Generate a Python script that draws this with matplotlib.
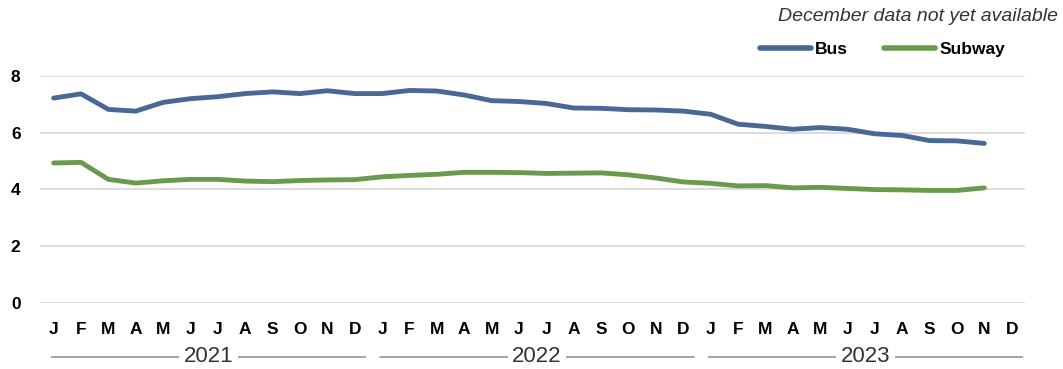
import matplotlib.pyplot as plt
import numpy as np

plt.rcParams['font.family'] = ['Liberation Sans', 'DejaVu Sans']

# monthly values, Jan 2021 .. Nov 2023 (Dec 2023 missing)
months = ["J", "F", "M", "A", "M", "J", "J", "A", "S", "O", "N", "D"] * 3
years = ["2021", "2022", "2023"]

bus = [7.22, 7.37, 6.82, 6.76, 7.07, 7.20, 7.27, 7.38, 7.44, 7.38, 7.48, 7.38,
       7.38, 7.49, 7.47, 7.33, 7.13, 7.10, 7.03, 6.87, 6.86, 6.81, 6.80, 6.76,
       6.65, 6.30, 6.22, 6.12, 6.18, 6.12, 5.96, 5.90, 5.72, 5.71, 5.62]

subway = [4.93, 4.95, 4.35, 4.22, 4.30, 4.35, 4.35, 4.29, 4.27, 4.31, 4.33, 4.34,
          4.44, 4.49, 4.53, 4.60, 4.60, 4.59, 4.56, 4.57, 4.58, 4.51, 4.40, 4.26,
          4.21, 4.12, 4.13, 4.05, 4.07, 4.03, 3.99, 3.98, 3.96, 3.96, 4.05]

bus_color = "#4a6897"
subway_color = "#6a9a4e"

fig = plt.figure(figsize=(10.63, 3.69), dpi=100)
ax = fig.add_axes([0.0376, 0.18, 0.927, 0.614])

x = np.arange(len(bus))
ax.plot(x, bus, color=bus_color, lw=3.5, solid_capstyle="round",
        solid_joinstyle="round", label="Bus", clip_on=False, zorder=3)
ax.plot(x, subway, color=subway_color, lw=3.5, solid_capstyle="round",
        solid_joinstyle="round", label="Subway", clip_on=False, zorder=3)

ax.set_xlim(-0.5, 35.5)
ax.set_ylim(0, 8)
ax.set_yticks([0, 2, 4, 6, 8])
ax.yaxis.grid(True, color="#d9d9d9", lw=1.3)
ax.set_axisbelow(True)
for s in ax.spines.values():
    s.set_visible(False)
ax.tick_params(axis="y", length=0, pad=14, labelsize=12.5)
ax.tick_params(axis="x", length=0, pad=14, labelsize=12.5)
for lab in ax.get_yticklabels():
    lab.set_fontweight("bold")

ax.set_xticks(np.arange(36))
ax.set_xticklabels(months, fontweight="bold")

# year labels sitting on a thin rule below the month letters
year_y = 12  # figure pixels from the bottom
for i, yr in enumerate(years):
    x0 = i * 12 - 0.08
    x1 = i * 12 + 11.4
    mid = (x0 + x1) / 2
    ax.annotate("", xy=(x0, year_y), xytext=(x1, year_y),
                xycoords=("data", "figure pixels"), textcoords=("data", "figure pixels"),
                arrowprops=dict(arrowstyle="-", color="#808080", lw=1.0,
                                shrinkA=0, shrinkB=0))
    ax.annotate(yr, xy=(mid, year_y + 1), xycoords=("data", "figure pixels"),
                ha="center", va="center", fontsize=16, color="#333333",
                bbox=dict(boxstyle="square,pad=0.2", fc="white", ec="none"))

fig.text(0.995, 0.955, "December data not yet available", ha="right", va="center",
         fontsize=14, style="italic", color="#333333")

leg = ax.legend(loc="center right", bbox_to_anchor=(0.96, 0.865),
                bbox_transform=fig.transFigure, ncol=2, frameon=False,
                handlelength=2.9, handletextpad=0.25, columnspacing=2.1,
                prop={"weight": "bold", "size": 12.5})
for h in leg.get_lines():
    h.set_linewidth(4)
    h.set_solid_capstyle("round")

fig.savefig("out.png", dpi=100)
